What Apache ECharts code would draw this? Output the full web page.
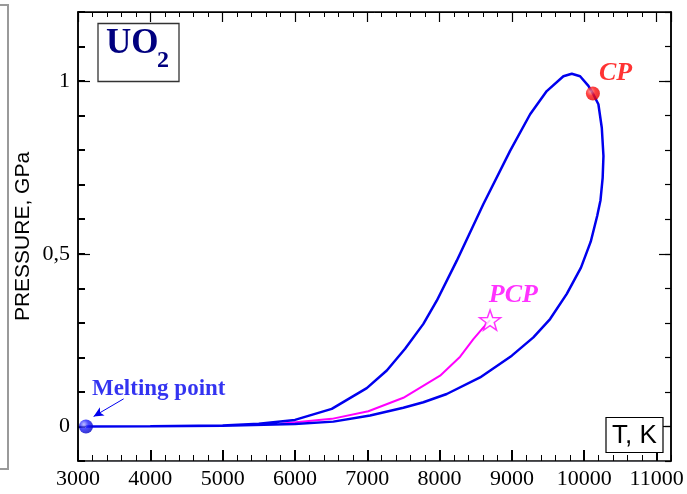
<!DOCTYPE html>
<html>
<head>
<meta charset="utf-8">
<script src="https://cdn.jsdelivr.net/npm/echarts@6/dist/echarts.min.js"></script>
<style>
html,body{margin:0;padding:0;background:#fff;}
#chart{width:687px;height:494px;background:#fff;}
</style>
</head>
<body>
<div id="chart"></div>
<script>
// ---- Data ----
const upperT = [3110, 4000, 5000, 5500, 6000, 6509, 6993, 7270, 7523, 7776, 7961, 8238, 8606, 8975, 9252, 9482, 9712, 9828, 9943, 10058, 10120];
const upperP = [0, 0.0005, 0.003, 0.008, 0.019, 0.051, 0.111, 0.162, 0.225, 0.297, 0.364, 0.48, 0.644, 0.798, 0.904, 0.971, 1.014, 1.021, 1.014, 0.986, 0.964];
const lowerT = [10120, 10196, 10243, 10266, 10255, 10225, 10180, 10090, 9955, 9759, 9528, 9297, 8999, 8560, 8099, 7776, 7499, 7039, 6531, 6000, 5000, 4000, 3110];
const lowerP = [0.964, 0.933, 0.865, 0.783, 0.72, 0.655, 0.61, 0.535, 0.46, 0.384, 0.311, 0.258, 0.205, 0.142, 0.094, 0.070, 0.054, 0.032, 0.014, 0.007, 0.002, 0.0003, 0];
const pcpT = [5800, 6509, 7015, 7499, 8007, 8284, 8467, 8606, 8698];
const pcpP = [0.008, 0.022, 0.044, 0.083, 0.147, 0.202, 0.253, 0.287, 0.308];
const meltingPoint = [3110, 0];
const criticalPoint = [10120, 0.964];
const pcpPoint = [8698, 0.308];
const arrowFrom = [3631, 0.080];
const arrowTo = [3216, 0.029];
const xMin = 3000, xMax = 11200;
const yMin = -0.1, yMax = 1.2;
const xMajorTicks = [3000, 4000, 5000, 6000, 7000, 8000, 9000, 10000, 11000];
const yMajorTicks = [0, 0.5, 1];

const zip = (a, b) => a.map((v, i) => [v, b[i]]);
const binodal = zip(upperT, upperP).concat(zip(lowerT, lowerP).slice(1));
const pcpCurve = zip(pcpT, pcpP);

const BLUE = '#0000ee';
const serif = '"Liberation Serif", "Times New Roman", serif';
const sans = '"Liberation Sans", Arial, sans-serif';

const chart = echarts.init(document.getElementById('chart'));
const gridBox = () => ({left: 78, right: 16, top: 12, bottom: 33});

const option = {
  animation: false,
  grid: [gridBox(), gridBox(), gridBox(), gridBox()],
  xAxis: [
    {gridIndex: 0, type: 'value', position: 'bottom', min: xMin, max: xMax, interval: 1000,
      axisLine: {show: true, onZero: false, lineStyle: {color: '#000', width: 1.5}},
      axisTick: {show: true, inside: true, length: 11, customValues: xMajorTicks, lineStyle: {color: 'black', width: 2}},
      axisLabel: {show: true, customValues: xMajorTicks, color: '#000', fontFamily: serif, fontSize: 22, margin: 7, formatter: v => String(v)},
      splitLine: {show: false}},
    {gridIndex: 1, type: 'value', position: 'bottom', min: xMin, max: xMax, interval: 200,
      axisLine: {show: true, onZero: false},
      axisTick: {show: true, inside: true, length: 6, lineStyle: {color: 'black'}},
      axisLabel: {show: false}, splitLine: {show: false}},
    {gridIndex: 2, type: 'value', position: 'top', min: xMin, max: xMax, interval: 1000,
      axisLine: {show: true, onZero: false, lineStyle: {color: '#000'}},
      axisTick: {show: true, inside: true, length: 10, lineStyle: {color: '#000', width: 1.2}},
      axisLabel: {show: false}, splitLine: {show: false}},
    {gridIndex: 3, type: 'value', position: 'top', min: xMin, max: xMax, interval: 200,
      axisLine: {show: true, onZero: false, lineStyle: {color: '#000', width: 1.5}},
      axisTick: {show: true, inside: true, length: 5, lineStyle: {color: '#000'}},
      axisLabel: {show: false}, splitLine: {show: false}}
  ],
  yAxis: [
    {gridIndex: 0, type: 'value', position: 'left', min: yMin, max: yMax, interval: 0.1,
      axisLine: {show: true, onZero: false, lineStyle: {color: '#000', width: 1.5}},
      axisTick: {show: true, inside: true, length: 12, customValues: yMajorTicks, lineStyle: {color: '#000', width: 1.2}},
      axisLabel: {show: true, customValues: yMajorTicks, color: '#000', fontFamily: serif, fontSize: 22, margin: 8,
        formatter: v => String(v).replace('.', ',')},
      name: 'PRESSURE, GPa', nameLocation: 'middle', nameGap: 44, nameMoveOverlap: false,
      nameTextStyle: {color: '#000', fontFamily: sans, fontSize: 21},
      splitLine: {show: false}},
    {gridIndex: 1, type: 'value', position: 'left', min: yMin, max: yMax, interval: 0.1,
      axisLine: {show: true, onZero: false, lineStyle: {color: '#000', width: 1.5}},
      axisTick: {show: true, inside: true, length: 7, lineStyle: {color: 'black', width: 2}},
      axisLabel: {show: false}, splitLine: {show: false}},
    {gridIndex: 2, type: 'value', position: 'right', min: yMin, max: yMax, interval: 0.1,
      axisLine: {show: true, onZero: false, lineStyle: {color: '#000', width: 1.5}},
      axisTick: {show: true, inside: true, length: 12, customValues: yMajorTicks, lineStyle: {color: '#000', width: 1.2}},
      axisLabel: {show: false}, splitLine: {show: false}},
    {gridIndex: 3, type: 'value', position: 'right', min: yMin, max: yMax, interval: 0.1,
      axisLine: {show: true, onZero: false, lineStyle: {color: '#000', width: 1.5}},
      axisTick: {show: true, inside: true, length: 6, lineStyle: {color: '#000', width: 1.2}},
      axisLabel: {show: false}, splitLine: {show: false}}
  ],
  series: [
    {name: 'PCP curve', type: 'line', xAxisIndex: 1, yAxisIndex: 1,
      data: pcpCurve, showSymbol: false, symbol: 'none', smooth: false,
      lineStyle: {color: '#ff00ff', width: 2}, z: 2},
    {name: 'Binodal', type: 'line', xAxisIndex: 0, yAxisIndex: 0,
      data: binodal, showSymbol: false, symbol: 'none', smooth: false,
      lineStyle: {color: BLUE, width: 2.5}, z: 3},
    {name: 'Melting point', type: 'scatter', xAxisIndex: 2, yAxisIndex: 2,
      data: [meltingPoint], symbol: 'circle', symbolSize: 14, z: 5,
      itemStyle: {color: {type: 'radial', x: 0.35, y: 0.35, r: 0.7,
        colorStops: [{offset: 0, color: '#b0b0ff'}, {offset: 0.45, color: '#2020ff'}, {offset: 1, color: '#0000c0'}]}},
      label: {show: true, formatter: 'Melting point', position: [13, -30], align: 'left', verticalAlign: 'middle',
        color: BLUE, fontFamily: serif, fontWeight: 'bold', fontSize: 23},
      markLine: {silent: true, symbol: ['none', 'arrow'], symbolSize: [7, 10],
        lineStyle: {color: BLUE, width: 1, type: 'solid'}, label: {show: false},
        data: [[{coord: arrowFrom}, {coord: arrowTo}]]}},
    {name: 'CP', type: 'scatter', xAxisIndex: 3, yAxisIndex: 3,
      data: [criticalPoint], symbol: 'circle', symbolSize: 14, z: 5,
      itemStyle: {color: {type: 'radial', x: 0.35, y: 0.35, r: 0.7,
        colorStops: [{offset: 0, color: '#ff9090'}, {offset: 0.45, color: '#ff1010'}, {offset: 1, color: '#e00000'}]}},
      label: {show: true, formatter: 'CP', position: [13, -13], align: 'left', verticalAlign: 'middle',
        color: '#ff0000', fontFamily: serif, fontWeight: 'bold', fontStyle: 'italic', fontSize: 26}},
    {name: 'PCP', type: 'scatter', xAxisIndex: 3, yAxisIndex: 3,
      data: [pcpPoint], z: 5,
      symbol: 'path://M0,-10 L2.35,-3.24 L9.51,-3.09 L3.8,1.24 L5.88,8.09 L0,4 L-5.88,8.09 L-3.8,1.24 L-9.51,-3.09 L-2.35,-3.24Z',
      symbolSize: 21, symbolKeepAspect: true,
      itemStyle: {color: '#fff', borderColor: '#ff00ff', borderWidth: 1.5},
      label: {show: true, formatter: 'PCP', position: [10, -14], align: 'left', verticalAlign: 'middle',
        color: '#ff00ff', fontFamily: serif, fontWeight: 'bold', fontStyle: 'italic', fontSize: 26}}
  ],
  graphic: [
    {type: 'rect', z: 100, shape: {x: -10, y: 5, width: 18, height: 464},
      style: {fill: 'none', stroke: '#9a9a9a', lineWidth: 2}},
    {type: 'rect', z: 100, shape: {x: 98, y: 23.5, width: 81, height: 58},
      style: {fill: '#fff', stroke: '#333', lineWidth: 1.3}},
    {type: 'text', z: 101, style: {x: 106, y: 44, text: 'UO', font: 'bold 35px "Liberation Serif"', fill: '#00007f', verticalAlign: 'middle', align: 'left'}},
    {type: 'text', z: 101, style: {x: 157, y: 61, text: '2', font: 'bold 24px "Liberation Serif"', fill: '#00007f', verticalAlign: 'middle', align: 'left'}},
    {type: 'rect', z: 100, shape: {x: 606, y: 417.5, width: 57, height: 35},
      style: {fill: '#fff', stroke: '#000', lineWidth: 1.2}},
    {type: 'text', z: 101, style: {x: 634.5, y: 436, text: 'T, K', font: '26px "Liberation Sans"', fill: '#000', verticalAlign: 'middle', align: 'center'}}
  ]
};
chart.setOption(option);
</script>
</body>
</html>
